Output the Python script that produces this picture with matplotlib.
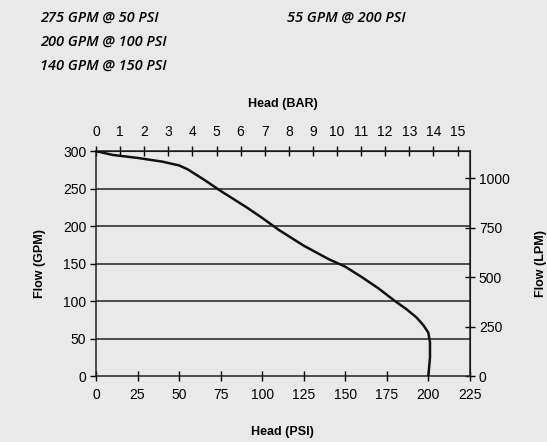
import numpy as np
import matplotlib
matplotlib.use("Agg")
import matplotlib.pyplot as plt

# pump curve
head_psi = [0, 10, 25, 40, 50, 55, 65, 75, 90, 100, 110, 125, 140, 150,
            160, 170, 180, 187, 193, 197, 200, 201, 201, 200]
flow_gpm = [300, 295, 291, 286, 281, 276, 262, 247, 226, 211, 195, 174, 156, 146,
            132, 117, 100, 89, 78, 68, 58, 45, 25, 0]

psi_ticks = [0, 25, 50, 75, 100, 125, 150, 175, 200, 225]
gpm_ticks = [0, 50, 100, 150, 200, 250, 300]
bar_ticks = list(range(0, 16))
lpm_ticks = [0, 250, 500, 750, 1000]

ratings = ["275 GPM @ 50 PSI", "200 GPM @ 100 PSI", "140 GPM @ 150 PSI"]
rating_right = "55 GPM @ 200 PSI"

PSI_PER_BAR = 14.5038
LPM_PER_GPM = 3.78541

bg = "#e9e9e9"
plt.rcParams["font.family"] = ["Liberation Sans", "DejaVu Sans"]

fig = plt.figure(figsize=(5.47, 4.42), dpi=100, facecolor=bg)
ax = fig.add_axes([0.1755, 0.149, 0.6835, 0.509], facecolor=bg)

for g in gpm_ticks[1:-1]:
    ax.axhline(g, color="#222222", lw=1.1, zorder=1)

ax.plot(head_psi, flow_gpm, color="#111111", lw=1.8, zorder=3)

ax.set_xlim(0, 225)
ax.set_ylim(0, 300)
ax.set_xticks(psi_ticks)
ax.set_yticks(gpm_ticks)
ax.tick_params(axis="x", direction="inout", length=7, width=1, labelsize=10, pad=5)
ax.tick_params(axis="y", direction="out", length=4, width=1, labelsize=10, pad=3)
for s in ax.spines.values():
    s.set_color("#222222")
    s.set_linewidth(1.1)

ax.set_xlabel("Head (PSI)", fontsize=9, fontweight="bold", labelpad=17)
ax.set_ylabel("Flow (GPM)", fontsize=9, fontweight="bold", labelpad=12)

top = ax.secondary_xaxis("top", functions=(lambda p: p / PSI_PER_BAR,
                                           lambda b: b * PSI_PER_BAR))
top.set_xticks(bar_ticks)
top.tick_params(direction="inout", length=7, width=1, labelsize=10, pad=5)
top.set_xlabel("Head (BAR)", fontsize=9, fontweight="bold", labelpad=13)

right = ax.secondary_yaxis("right", functions=(lambda g: g * LPM_PER_GPM,
                                               lambda l: l / LPM_PER_GPM))
right.set_yticks(lpm_ticks)
right.tick_params(direction="inout", length=7, width=1, labelsize=10, pad=3)
right.set_ylabel("Flow (LPM)", fontsize=9, fontweight="bold", labelpad=18)

for i, txt in enumerate(ratings):
    fig.text(40 / 547, 1 - (18 + i * 24) / 442, txt, fontsize=10.5,
             style="italic", fontweight="semibold",
             family=["Open Sans", "DejaVu Sans"],
             ha="left", va="center", color="#000000")
fig.text(287 / 547, 1 - 18 / 442, rating_right, fontsize=10.5,
         style="italic", fontweight="semibold",
         family=["Open Sans", "DejaVu Sans"],
         ha="left", va="center", color="#000000")

fig.savefig("out.png", dpi=100, facecolor=bg)
